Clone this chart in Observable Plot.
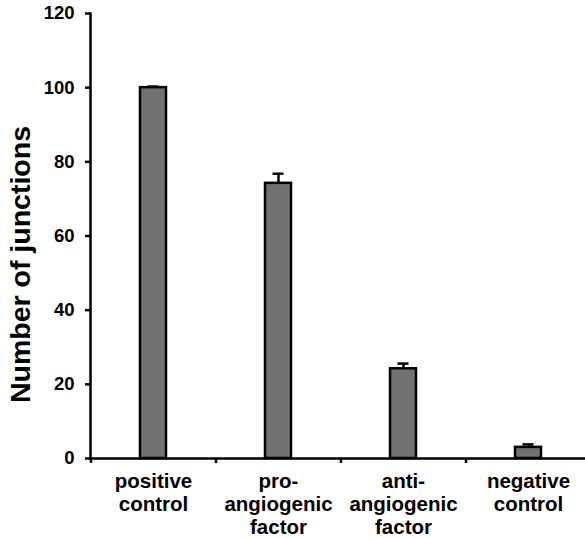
<!DOCTYPE html>
<html>
<head>
<meta charset="utf-8">
<script src="https://cdn.jsdelivr.net/npm/d3@7"></script>
<script src="https://cdn.jsdelivr.net/npm/@observablehq/plot@0.6"></script>
<style>
  html, body { margin: 0; padding: 0; background: #fff; }
  svg { display: block; }
</style>
</head>
<body>
<div id="chart"></div>
<script>
const categories = ["positive control", "pro-angiogenic factor", "anti-angiogenic factor", "negative control"];
const tickLabels = ["positive\ncontrol", "pro-\nangiogenic\nfactor", "anti-\nangiogenic\nfactor", "negative\ncontrol"];
const values = [100, 74.2, 24.2, 3.0];
const errors = [0.3, 2.6, 1.4, 0.8];
const yTicks = [0, 20, 40, 60, 80, 100, 120];
const yLabel = "Number of junctions";

const data = categories.map((c, i) => ({cat: c, value: values[i], top: values[i] + errors[i]}));
const labelOf = new Map(categories.map((c, i) => [c, tickLabels[i]]));

const font = "'Liberation Sans', Arial, sans-serif";

const chart = Plot.plot({
  width: 585,
  height: 539,
  marginTop: 13,
  marginBottom: 81,
  marginLeft: 90,
  marginRight: 0,
  style: {fontFamily: font, fontWeight: "bold", color: "#000", background: "#fff"},
  x: {domain: categories, range: [90, 590], paddingInner: 0.792, paddingOuter: 0.396},
  y: {domain: [0, 120], range: [458, 13]},
  marks: [
    Plot.frame({anchor: "left", stroke: "#000", strokeWidth: 2.5}),
    Plot.axisY({ticks: yTicks, tickSize: 5, tickPadding: 11, strokeWidth: 2.5, fontSize: 18.5, label: null}),
    Plot.axisX({tickSize: 5, dx: -62.5, text: null, strokeWidth: 2.5, label: null}),
    Plot.axisX({tickSize: 0, tickPadding: 13.5, fontSize: 20.5, lineHeight: 1.12, tickFormat: d => labelOf.get(d), label: null}),
    Plot.text([yLabel], {frameAnchor: "left", rotate: -90, dx: -70, dy: 28.5, fontSize: 28.5, fontWeight: "bold", textAnchor: "middle", lineAnchor: "middle", fill: "#000"}),
    Plot.ruleX(data, {x: "cat", y1: "value", y2: "top", stroke: "#000", strokeWidth: 2.5}),
    Plot.tickY(data, {x: "cat", y: "top", stroke: "#000", strokeWidth: 2.5, insetLeft: 7.5, insetRight: 7.5}),
    Plot.barY(data, {x: "cat", y: "value", fill: "#717171", stroke: "#000", strokeWidth: 2.5}),
    Plot.ruleY([0], {stroke: "#000", strokeWidth: 2.5})
  ]
});
document.getElementById("chart").appendChild(chart);
</script>
</body>
</html>
